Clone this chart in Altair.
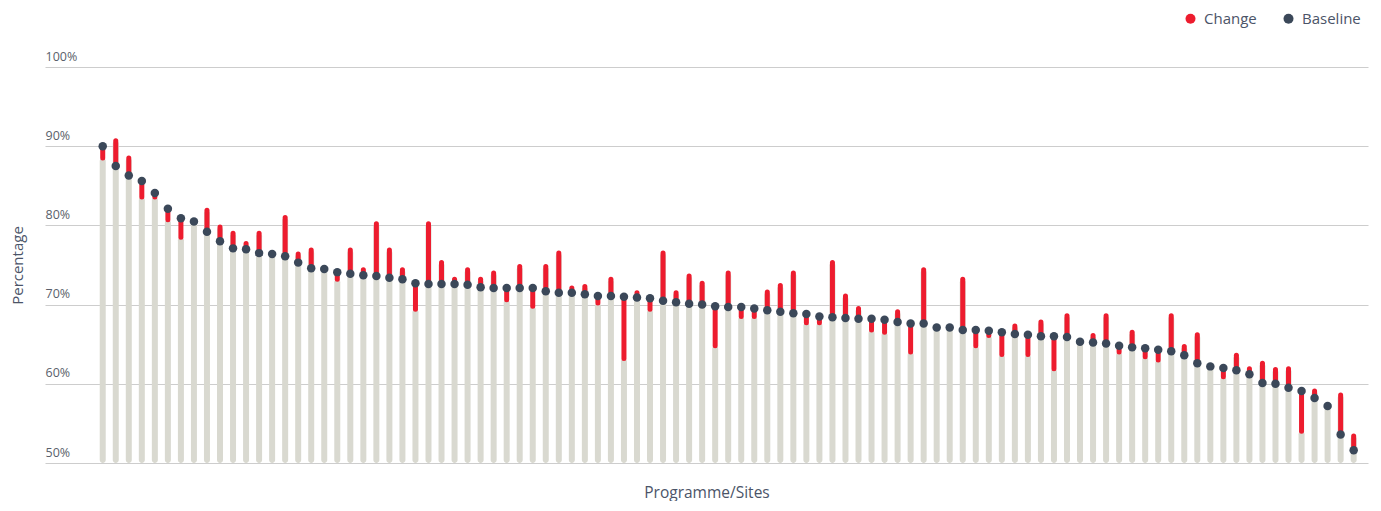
import altair as alt
import pandas as pd

baseline = [90.0, 87.5, 86.3, 85.6, 84.1, 82.1, 80.9, 80.5, 79.2, 78.0,
            77.1, 77.0, 76.5, 76.4, 76.1, 75.3, 74.6, 74.5, 74.1, 73.9,
            73.7, 73.6, 73.4, 73.2, 72.7, 72.6, 72.6, 72.6, 72.5, 72.2,
            72.1, 72.1, 72.1, 72.1, 71.7, 71.5, 71.5, 71.3, 71.1, 71.1,
            71.0, 70.9, 70.8, 70.5, 70.3, 70.1, 70.0, 69.8, 69.7, 69.7,
            69.5, 69.3, 69.1, 68.9, 68.8, 68.5, 68.4, 68.3, 68.2, 68.2,
            68.1, 67.8, 67.6, 67.6, 67.1, 67.1, 66.8, 66.8, 66.7, 66.5,
            66.3, 66.2, 66.0, 66.0, 65.9, 65.3, 65.2, 65.1, 64.8, 64.6,
            64.5, 64.3, 64.1, 63.6, 62.6, 62.2, 62.0, 61.7, 61.2, 60.1,
            60.0, 59.5, 59.1, 58.2, 57.2, 53.6, 51.6]

current = [88.5, 90.7, 88.5, 83.6, 83.6, 80.7, 78.5, 80.5, 81.9, 79.8,
           79.0, 77.7, 79.0, 76.4, 81.0, 76.4, 76.9, 74.5, 73.2, 76.9,
           74.4, 80.2, 76.9, 74.4, 69.4, 80.2, 75.3, 73.2, 74.4, 73.2,
           74.0, 70.6, 74.8, 69.8, 74.8, 76.5, 72.1, 72.3, 70.2, 73.2,
           63.2, 71.5, 69.4, 76.5, 71.5, 73.6, 72.7, 64.8, 74.0, 68.5,
           68.5, 71.6, 72.4, 74.0, 67.7, 67.7, 75.3, 71.1, 69.5, 66.8,
           66.5, 69.1, 64.0, 74.4, 67.1, 67.1, 73.2, 64.8, 66.1, 63.7,
           67.3, 63.7, 67.8, 61.9, 68.6, 65.3, 66.1, 68.6, 64.0, 66.5,
           63.4, 63.0, 68.6, 64.7, 66.2, 62.2, 60.9, 63.6, 61.9, 62.6,
           61.8, 61.9, 54.0, 59.1, 57.2, 58.6, 53.4]

y_ticks = [50, 60, 70, 80, 90, 100]
series_names = ["Change", "Baseline"]

RED = "#ED1C2E"
NAVY = "#3B4859"
GREY = "#D9D9D0"
TEXT = "#4B5468"

df = pd.DataFrame({
    "site": list(range(len(baseline))),
    "baseline": baseline,
    "current": current,
    "floor": [50] * len(baseline),
})

x_enc = alt.X("site:Q",
              scale=alt.Scale(domain=[-4.43, 97.1], nice=False, zero=False,
                              padding=0),
              axis=alt.Axis(title="Programme/Sites", labels=False, ticks=False,
                            domain=False, grid=False, titleFontSize=15.5,
                            titleFont="Open Sans", titleColor=TEXT,
                            titleFontWeight="normal", titlePadding=22))
y_scale = alt.Scale(domain=[50, 100], nice=False, zero=False, padding=0)
y_axis = alt.Axis(title="Percentage", values=y_ticks, format=".0f",
                  labelExpr="datum.value + '%'",
                  labelAlign="left", labelBaseline="alphabetic", labelOffset=-7,
                  labelPadding=0, tickSize=0, ticks=False, domain=False,
                  labelFont="Open Sans", labelFontSize=12.5, labelColor="#5A5F6B",
                  gridColor="#CDCDCD", gridWidth=1.2,
                  titleFont="Open Sans", titleFontSize=15, titleColor=TEXT,
                  titleFontWeight="normal", titleX=-28, titleY=198,
                  titleAngle=-90, titleAlign="center", titleBaseline="middle")

base = alt.Chart(df)

grey = base.mark_bar(color=GREY, size=6, cornerRadius=3).encode(
    x=x_enc,
    y=alt.Y("floor:Q", scale=y_scale, axis=y_axis),
    y2="current:Q",
)

color_scale = alt.Scale(domain=series_names, range=[RED, NAVY])
legend = alt.Legend(title=None, orient="none", direction="horizontal",
                    legendX=1138, legendY=-56, symbolType="circle",
                    symbolSize=100, symbolStrokeWidth=0, labelFontSize=15,
                    labelFont="Open Sans", labelColor=TEXT, labelOffset=6,
                    columnPadding=24, padding=0)

change = base.transform_calculate(series="'Change'").mark_rule(
    strokeWidth=5, strokeCap="round").encode(
    x="site:Q",
    y=alt.Y("baseline:Q", scale=y_scale),
    y2="current:Q",
    color=alt.Color("series:N", scale=color_scale, legend=legend),
)

dots = base.transform_calculate(series="'Baseline'").mark_point(
    filled=True, size=72, opacity=1, shape="circle").encode(
    x="site:Q",
    y=alt.Y("baseline:Q", scale=y_scale),
    color=alt.Color("series:N", scale=color_scale, legend=legend),
)

chart = alt.layer(grey, change, dots).properties(
    width=1323, height=396,
    autosize=alt.AutoSizeParams(type="none"),
    padding={"left": 37, "top": 59, "right": 5, "bottom": 38},
).configure_view(stroke=None)

chart.save("out.html", embed_options={"renderer": "svg", "actions": False})
